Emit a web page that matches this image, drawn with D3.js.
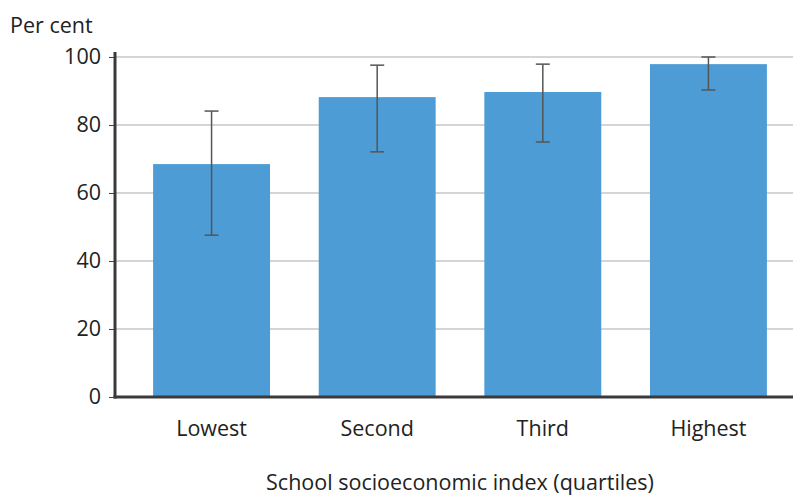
<!DOCTYPE html>
<html><head><meta charset="utf-8">
<script src="https://cdn.jsdelivr.net/npm/d3@7"></script>
<style>body{margin:0;background:#fff;} svg{display:block;} text{font-family:"Open Sans","Noto Sans",sans-serif;fill:#222;}</style>
</head><body>
<script>
const categories = ["Lowest", "Second", "Third", "Highest"];
const values = [68.5, 88.2, 89.7, 97.9];
const lower = [47.6, 72.1, 75.0, 90.3];
const upper = [84.1, 97.6, 97.9, 100.0];
const yTicks = [0, 20, 40, 60, 80, 100];

const W = 793, H = 496, FS = 21.5;
const svg = d3.select("body").append("svg").attr("width", W).attr("height", H);

const y = d3.scaleLinear().domain([0, 100]).range([397, 57]);
const x = d3.scaleBand().domain(categories).range([115, 805]).paddingInner(0.294).paddingOuter(0.23);

// clipped title remnant (only descenders visible in the reference)
svg.append("text").attr("x", 312).attr("y", -3).attr("text-anchor", "middle").attr("font-size", FS).text("(%)");

// gridlines
svg.append("g").selectAll("line").data(yTicks.filter(d => d > 0)).join("line")
  .attr("x1", 115).attr("x2", W).attr("y1", d => y(d)).attr("y2", d => y(d))
  .attr("stroke", "#d3d5d8").attr("stroke-width", 2);

// bars
svg.append("g").selectAll("rect").data(categories).join("rect")
  .attr("x", d => x(d)).attr("width", x.bandwidth())
  .attr("y", (d, i) => y(values[i])).attr("height", (d, i) => y(0) - y(values[i]))
  .attr("fill", "#4d9cd6");

// error bars
const eb = svg.append("g").attr("stroke", "#555").attr("stroke-width", 1.5);
categories.forEach((c, i) => {
  const cx = x(c) + x.bandwidth() / 2;
  eb.append("line").attr("x1", cx).attr("x2", cx).attr("y1", y(upper[i])).attr("y2", y(lower[i]));
  eb.append("line").attr("x1", cx - 7).attr("x2", cx + 7).attr("y1", y(upper[i])).attr("y2", y(upper[i]));
  eb.append("line").attr("x1", cx - 7).attr("x2", cx + 7).attr("y1", y(lower[i])).attr("y2", y(lower[i]));
});

// y axis
const yAxis = svg.append("g").attr("transform", "translate(115,0)")
  .call(d3.axisLeft(y).tickValues(yTicks).tickSize(6).tickPadding(8));
yAxis.select(".domain").remove();
yAxis.selectAll(".tick line").attr("stroke", "#444").attr("stroke-width", 1);
yAxis.selectAll(".tick text").attr("font-size", FS).attr("fill", "#222")
  .attr("font-family", "'Open Sans','Noto Sans',sans-serif");
svg.append("line").attr("x1", 115).attr("x2", 115).attr("y1", 52).attr("y2", 398.5)
  .attr("stroke", "#3a3a3a").attr("stroke-width", 3);

// x axis
const xAxis = svg.append("g").attr("transform", "translate(0,397)")
  .call(d3.axisBottom(x).tickSize(0).tickPadding(24));
xAxis.select(".domain").remove();
xAxis.selectAll(".tick text").attr("font-size", FS).attr("fill", "#222")
  .attr("font-family", "'Open Sans','Noto Sans',sans-serif");
svg.append("line").attr("x1", 113.5).attr("x2", W).attr("y1", 397).attr("y2", 397)
  .attr("stroke", "#3a3a3a").attr("stroke-width", 3);

svg.append("text").attr("x", 10).attr("y", 33).attr("font-size", FS).text("Per cent");
svg.append("text").attr("x", 460).attr("y", 490).attr("text-anchor", "middle").attr("font-size", FS)
  .text("School socioeconomic index (quartiles)");
</script>
</body></html>
